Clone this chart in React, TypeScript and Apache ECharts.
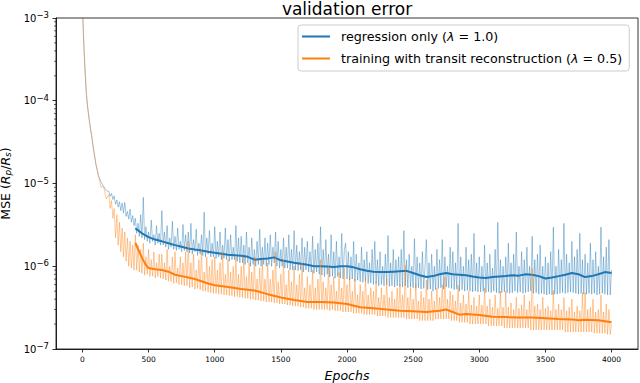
import React, { useEffect, useRef } from "react";
import * as echarts from "echarts";

// ---------- data (MSE values in units of 1e-6) ----------
const X_TICKS = [0, 500, 1000, 1500, 2000, 2500, 3000, 3500, 4000];
const Y_DECADES = [-7, -6, -5, -4, -3];
const MINOR_MULTIPLIERS = [2, 3, 4, 5, 6, 7, 8, 9];

const EARLY_EPOCHS = [0, 5, 10, 15, 20, 30, 40, 50, 60, 70, 80, 100, 120, 140, 160, 180];
const BLUE_EARLY = [1300, 800, 480, 320, 220, 115, 80, 60, 46, 37, 28, 17.5, 12.5, 10.5, 9.2, 8.2];
const ORANGE_EARLY = [1300, 850, 520, 340, 240, 125, 85, 63, 48, 38, 29, 18, 12.8, 9.0, 9.2, 6.5];

// raw values sampled every 10 epochs from epoch 200 to 4000
const RAW_START = 200;
const RAW_STEP = 10;
const BLUE_RAW = [
  8.0, 7.0, 7.6, 6.4, 7.1, 5.6, 6.3, 5.2, 6.0, 4.7, 5.8, 4.4, 5.9, 4.0, 4.6, 3.7, 4.9, 3.4, 4.1, 3.1,
  3.8, 2.5, 3.3, 2.3, 4.2, 2.2, 6.8, 2.1, 3.0, 2.0, 2.6, 1.9, 3.6, 2.0, 2.4, 1.8, 3.1, 1.9, 2.5, 1.8,
  4.7, 1.8, 2.6, 1.7, 3.1, 1.6, 2.2, 1.7, 3.5, 1.6, 2.3, 1.55, 2.9, 1.6, 2.0, 1.5, 3.2, 1.55, 2.4, 1.5,
  2.6, 1.45, 3.3, 1.4, 2.1, 1.5, 2.8, 1.35, 1.9, 1.4, 2.4, 1.35, 4.5, 1.3, 2.2, 1.4, 2.7, 1.3, 1.9, 1.3,
  3.0, 1.25, 2.0, 1.3, 2.6, 1.2, 1.8, 1.25, 2.9, 1.2, 2.1, 1.15, 2.4, 1.2, 1.7, 1.2, 3.1, 1.15, 2.2, 1.1,
  2.3, 1.1, 1.8, 1.05, 2.6, 1.1, 1.7, 1.0, 2.2, 1.05, 1.6, 1.0, 2.0, 1.05, 2.8, 1.0, 1.7, 1.05, 2.2, 1.0,
  1.9, 1.05, 2.4, 1.0, 1.7, 1.1, 2.6, 1.0, 2.0, 0.95, 1.6, 1.0, 2.2, 0.95, 1.7, 0.95, 2.4, 0.9, 1.6, 0.9,
  2.7, 0.9, 1.8, 0.88, 1.5, 0.9, 2.2, 0.85, 1.7, 0.9, 2.0, 0.85, 1.5, 0.85, 2.3, 0.82, 1.6, 0.85, 1.9, 0.8,
  3.0, 0.78, 1.6, 0.75, 2.1, 0.8, 1.4, 0.74, 2.4, 0.76, 1.5, 0.72, 2.0, 0.75, 1.3, 0.72, 2.5, 0.7, 1.6, 1.9,
  0.7, 1.5, 0.68, 1.3, 0.7, 2.0, 0.66, 1.4, 0.68, 1.1, 0.65, 1.7, 0.64, 1.2, 0.66, 1.5, 0.62, 1.1, 0.63, 1.6,
  0.6, 2.0, 0.62, 1.2, 0.58, 1.5, 0.6, 1.0, 0.58, 1.4, 0.6, 2.35, 0.57, 1.1, 0.58, 1.6, 0.56, 1.2, 0.58, 1.3,
  0.57, 1.6, 0.56, 2.7, 0.58, 1.2, 0.55, 1.4, 0.56, 1.0, 0.55, 2.15, 0.54, 1.3, 0.55, 1.1, 0.53, 1.5, 0.54, 1.0,
  2.1, 0.52, 1.1, 0.53, 1.4, 0.5, 1.0, 0.52, 1.6, 0.54, 1.2, 0.55, 2.1, 0.53, 1.3, 0.56, 1.0, 0.55, 1.7, 0.54,
  1.5, 0.52, 1.1, 0.53, 3.3, 0.5, 1.3, 0.52, 1.0, 0.5, 1.7, 0.51, 1.2, 0.5, 1.4, 0.49, 2.5, 0.5, 1.1, 0.49,
  1.3, 0.49, 1.0, 0.5, 1.8, 0.48, 1.1, 0.49, 1.4, 0.48, 0.95, 0.5, 1.6, 0.48, 3.4, 0.47, 1.2, 0.48, 1.0, 0.49,
  1.3, 0.48, 1.9, 0.47, 1.1, 0.48, 1.4, 0.5, 2.6, 0.48, 1.0, 0.49, 1.5, 0.47, 1.2, 0.48, 1.7, 0.49, 1.0, 0.5,
  2.3, 0.47, 1.2, 0.48, 1.4, 0.46, 1.8, 0.47, 1.0, 0.46, 1.3, 0.45, 1.1, 0.46, 1.5, 0.45, 2.97, 0.46, 1.0, 0.46,
  1.6, 0.47, 1.2, 0.48, 3.3, 0.47, 1.4, 0.48, 1.1, 0.49, 2.0, 0.48, 1.3, 0.47, 1.6, 0.46, 2.5, 0.47, 1.2, 0.46,
  1.4, 0.46, 1.1, 0.47, 1.9, 0.46, 1.2, 0.47, 1.5, 0.45, 1.0, 0.46, 2.97, 0.47, 1.3, 0.46, 1.7, 0.45, 2.1, 0.45,
  0.9,
];
const ORANGE_RAW = [
  7.4, 5.0, 6.2, 3.8, 5.0, 2.2, 4.2, 1.8, 3.4, 1.5, 2.9, 1.3, 2.6, 1.15, 2.2, 1.0, 2.0, 0.95, 1.8, 0.9,
  2.4, 0.9, 1.8, 0.85, 1.6, 0.82, 1.9, 0.78, 1.3, 0.8, 1.6, 0.75, 1.2, 0.76, 1.5, 0.72, 1.1, 0.75, 1.4, 0.72,
  1.4, 0.7, 1.1, 0.68, 1.6, 0.66, 1.0, 0.65, 1.3, 0.62, 1.5, 0.63, 0.95, 0.6, 1.3, 0.6, 1.1, 0.58, 1.5, 0.58,
  2.0, 0.55, 1.1, 0.56, 1.4, 0.53, 0.9, 0.54, 1.2, 0.52, 1.6, 0.5, 0.85, 0.5, 1.3, 0.49, 1.0, 0.48, 1.2, 0.47,
  1.3, 0.47, 0.9, 0.46, 1.1, 0.46, 1.5, 0.45, 0.8, 0.45, 1.2, 0.44, 0.85, 0.44, 1.0, 0.43, 1.3, 0.43, 0.8, 0.42,
  1.0, 0.42, 1.3, 0.41, 0.75, 0.41, 1.1, 0.4, 0.85, 0.4, 1.3, 0.39, 0.7, 0.39, 0.95, 0.38, 1.2, 0.38, 0.7, 0.37,
  1.1, 0.37, 0.7, 0.37, 0.9, 0.36, 1.5, 0.36, 0.65, 0.35, 0.8, 0.35, 1.2, 0.35, 0.6, 0.34, 0.9, 0.34, 0.65, 0.33,
  1.0, 0.33, 0.6, 0.33, 0.8, 0.32, 1.1, 0.32, 0.55, 0.31, 0.75, 0.31, 0.6, 0.31, 0.9, 0.3, 0.55, 0.3, 0.7, 0.3,
  1.2, 0.3, 0.65, 0.3, 0.55, 0.3, 1.0, 0.29, 0.6, 0.3, 0.75, 0.29, 0.5, 0.29, 0.85, 0.29, 0.55, 0.28, 0.95, 0.28,
  0.6, 0.28, 0.75, 0.28, 0.5, 0.27, 0.7, 0.27, 0.45, 0.27, 0.6, 0.27, 0.5, 0.26, 0.74, 0.26, 0.45, 0.26, 0.55, 0.26,
  0.5, 0.26, 0.65, 0.25, 0.42, 0.25, 0.55, 0.25, 0.45, 0.25, 0.7, 0.24, 0.42, 0.24, 0.5, 0.24, 0.4, 0.24, 0.55, 0.24,
  0.6, 0.24, 0.45, 0.24, 1.03, 0.23, 0.42, 0.23, 0.55, 0.23, 0.4, 0.23, 0.62, 0.23, 0.38, 0.22, 0.5, 0.22, 0.42, 0.22,
  0.68, 0.22, 0.4, 0.22, 0.5, 0.22, 0.38, 0.23, 0.55, 0.23, 0.42, 0.23, 0.6, 0.23, 0.74, 0.23, 0.4, 0.23, 0.5, 0.22,
  0.45, 0.22, 0.38, 0.22, 0.59, 0.21, 0.36, 0.21, 0.45, 0.21, 0.35, 0.21, 0.5, 0.2, 0.34, 0.2, 0.42, 0.2, 0.33, 0.2,
  0.45, 0.2, 0.34, 0.2, 0.55, 0.2, 0.33, 0.19, 0.4, 0.19, 0.32, 0.19, 0.45, 0.19, 0.31, 0.19, 0.5, 0.19, 0.32, 0.18,
  0.5, 0.18, 0.32, 0.18, 0.36, 0.18, 0.3, 0.18, 0.42, 0.18, 0.31, 0.18, 0.34, 0.18, 0.45, 0.18, 0.3, 0.18, 0.38, 0.17,
  0.95, 0.17, 0.33, 0.17, 0.35, 0.17, 0.3, 0.17, 0.42, 0.17, 0.31, 0.17, 0.33, 0.17, 0.29, 0.17, 0.51, 0.17, 0.3, 0.17,
  0.35, 0.17, 0.3, 0.17, 0.42, 0.16, 0.29, 0.16, 0.32, 0.16, 0.4, 0.16, 0.28, 0.16, 0.33, 0.16, 0.29, 0.16, 0.48, 0.16,
  0.48, 0.16, 0.3, 0.16, 0.32, 0.16, 0.4, 0.155, 0.28, 0.155, 0.3, 0.155, 0.45, 0.155, 0.28, 0.155, 0.35, 0.15, 0.3, 0.15,
  0.2,
];

const BLUE_SMOOTH_EPOCHS = [
  400, 450, 500, 550, 600, 650, 700, 750, 800, 850, 900, 950, 1000, 1050, 1100, 1150, 1200, 1250, 1300,
  1350, 1400, 1450, 1500, 1550, 1600, 1650, 1700, 1750, 1800, 1850, 1900, 1950, 2000, 2050, 2100, 2150,
  2200, 2250, 2300, 2350, 2400, 2450, 2500, 2550, 2600, 2650, 2700, 2750, 2800, 2850, 2900, 2950, 3000,
  3050, 3100, 3150, 3200, 3250, 3300, 3350, 3400, 3450, 3500, 3550, 3600, 3650, 3700, 3750, 3800, 3850,
  3900, 3950, 4000,
];
const BLUE_SMOOTH = [
  2.87, 2.5, 2.25, 2.1, 2.0, 1.9, 1.8, 1.72, 1.64, 1.59, 1.55, 1.5, 1.46, 1.42, 1.38, 1.36, 1.34, 1.3, 1.2,
  1.22, 1.24, 1.28, 1.18, 1.14, 1.1, 1.07, 1.04, 1.0, 1.0, 0.99, 0.98, 1.0, 1.0, 0.97, 0.92, 0.88,
  0.86, 0.85, 0.85, 0.86, 0.87, 0.88, 0.83, 0.78, 0.74, 0.76, 0.8, 0.83, 0.8, 0.79, 0.78, 0.75, 0.73,
  0.72, 0.74, 0.75, 0.76, 0.78, 0.77, 0.8, 0.79, 0.76, 0.71, 0.73, 0.76, 0.79, 0.83, 0.8, 0.74, 0.76,
  0.8, 0.85, 0.83,
];

const ORANGE_SMOOTH_EPOCHS = [
  400, 425, 450, 475, 500, 550, 600, 650, 700, 750, 800, 850, 900, 950, 1000, 1100, 1200, 1300, 1400,
  1500, 1600, 1700, 1800, 1900, 2000, 2100, 2200, 2300, 2400, 2500, 2600, 2700, 2750, 2800, 2850, 2900,
  3000, 3100, 3200, 3300, 3400, 3500, 3600, 3700, 3750, 3800, 3900, 4000,
];
const ORANGE_SMOOTH = [
  1.91, 1.55, 1.27, 1.06, 0.95, 0.92, 0.9, 0.86, 0.79, 0.76, 0.73, 0.7, 0.66, 0.62, 0.59, 0.56, 0.53, 0.51, 0.46,
  0.42, 0.39, 0.37, 0.37, 0.365, 0.35, 0.32, 0.31, 0.3, 0.29, 0.285, 0.28, 0.29, 0.3, 0.28, 0.26, 0.265,
  0.257, 0.245, 0.243, 0.24, 0.24, 0.235, 0.23, 0.228, 0.222, 0.225, 0.222, 0.21,
];

const NAME_BLUE = "regression only (λ = 1.0)";
const NAME_ORANGE = "training with transit reconstruction (λ = 0.5)";

const BLUE = "#1f77b4";
const ORANGE = "#ff7f0e";
const FONT = "DejaVu Sans";

function rawPairs(early: number[], raw: number[]) {
  const out: [number, number][] = [];
  EARLY_EPOCHS.forEach((e, i) => out.push([e, early[i] * 1e-6]));
  raw.forEach((v, i) => out.push([RAW_START + i * RAW_STEP, v * 1e-6]));
  return out;
}
function pairs(xs: number[], ys: number[]) {
  return xs.map((x, i) => [x, ys[i] * 1e-6]);
}

const titleGraphic = {
  type: "text",
  id: "title",
  x: 347,
  y: 9,
  style: {
    text: "validation error",
    fontFamily: FONT,
    fontSize: 17,
    fill: "#000",
    align: "center",
    verticalAlign: "middle",
  },
};

export default function App() {
  const ref = useRef<HTMLDivElement>(null);
  useEffect(() => {
    const chart = echarts.init(ref.current!, null, { renderer: "svg" });
    const option: any = {
      animation: false,
      backgroundColor: "#fff",
      grid: {
        left: 56,
        top: 18,
        width: 582,
        height: 331,
        containLabel: false,
        outerBoundsMode: "none",
        show: true,
        borderColor: "#000",
        borderWidth: 0.8,
        backgroundColor: "transparent",
      },
      graphic: [titleGraphic],
      legend: {
        data: [NAME_BLUE, NAME_ORANGE],
        orient: "vertical",
        left: 298,
        top: 25,
        icon: "rect",
        itemWidth: 28,
        itemHeight: 2,
        itemGap: 9,
        padding: [5, 7, 6, 4],
        backgroundColor: "rgba(255,255,255,0.8)",
        borderColor: "#cccccc",
        borderWidth: 1,
        borderRadius: 3,
        selectedMode: false,
        formatter: (name: string) => name.replace("λ", "{i|λ}"),
        textStyle: {
          fontFamily: FONT,
          fontSize: 12.7,
          color: "#000",
          padding: [0, 0, 0, 6],
          rich: {
            i: { fontFamily: FONT, fontStyle: "italic", fontSize: 12.7, color: "#000" },
          },
        },
      },
      xAxis: {
        type: "value",
        min: -200,
        max: 4200,
        splitLine: { show: false },
        axisLine: { show: true, onZero: false, lineStyle: { color: "#000", width: 0.8 } },
        axisTick: { show: true, length: 3.5, customValues: X_TICKS, lineStyle: { color: "#000", width: 0.8 } },
        axisLabel: {
          customValues: X_TICKS,
          formatter: (v: number) => String(v),
          fontFamily: FONT,
          fontSize: 7.5,
          color: "#000",
          margin: 6,
        },
        name: "Epochs",
        nameLocation: "middle",
        nameGap: 20,
        nameTextStyle: { fontFamily: FONT, fontSize: 12.5, fontStyle: "italic", color: "#000" },
      },
      yAxis: {
        type: "log",
        logBase: 10,
        min: 1e-7,
        max: 1e-3,
        splitNumber: 4,
        splitLine: { show: false },
        axisLine: { show: true, onZero: false, lineStyle: { color: "#000", width: 0.8 } },
        axisTick: { show: true, length: 3.5, lineStyle: { color: "#000", width: 0.8 } },
        minorTick: { show: false },
        minorSplitLine: { show: false },
        axisLabel: {
          fontFamily: FONT,
          fontSize: 10,
          color: "#000",
          margin: 7,
          formatter: (v: number) => `10{sup|−${Math.round(-Math.log10(v))}}`,
          rich: {
            sup: { fontFamily: FONT, fontSize: 8.5, color: "#000", padding: [0, 0, 6, 0] },
          },
        },
        name: "MSE ({it|R}{sub|p}/{it|R}{sub|s})",
        nameLocation: "middle",
        nameGap: 34,
        nameTextStyle: {
          fontFamily: FONT,
          fontSize: 12.5,
          color: "#000",
          rich: {
            it: { fontFamily: FONT, fontSize: 12.5, fontStyle: "italic", color: "#000" },
            sub: { fontFamily: FONT, fontSize: 9, fontStyle: "italic", color: "#000", padding: [5, 0, 0, 0] },
          },
        },
      },
      series: [
        {
          name: "blue-raw",
          type: "line",
          data: rawPairs(BLUE_EARLY, BLUE_RAW),
          symbol: "none",
          silent: true,
          z: 1,
          itemStyle: { color: BLUE },
          lineStyle: { color: BLUE, width: 1, opacity: 0.42 },
        },
        {
          name: NAME_BLUE,
          type: "line",
          data: pairs(BLUE_SMOOTH_EPOCHS, BLUE_SMOOTH),
          symbol: "none",
          silent: true,
          z: 2,
          itemStyle: { color: BLUE },
          lineStyle: { color: BLUE, width: 2 },
        },
        {
          name: "orange-raw",
          type: "line",
          data: rawPairs(ORANGE_EARLY, ORANGE_RAW),
          symbol: "none",
          silent: true,
          z: 3,
          itemStyle: { color: ORANGE },
          lineStyle: { color: ORANGE, width: 1, opacity: 0.42 },
        },
        {
          name: NAME_ORANGE,
          type: "line",
          data: pairs(ORANGE_SMOOTH_EPOCHS, ORANGE_SMOOTH),
          symbol: "none",
          silent: true,
          z: 4,
          itemStyle: { color: ORANGE },
          lineStyle: { color: ORANGE, width: 2 },
        },
      ],
    };
    chart.setOption(option);

    // matplotlib-style log minor ticks, placed through the axis scale
    const x0 = chart.convertToPixel({ xAxisIndex: 0 }, -200) as number;
    const minor: any[] = [];
    Y_DECADES.slice(0, -1).forEach((d) => {
      MINOR_MULTIPLIERS.forEach((m) => {
        const py = chart.convertToPixel({ yAxisIndex: 0 }, m * Math.pow(10, d)) as number;
        minor.push({
          type: "line",
          silent: true,
          shape: { x1: x0 - 2, y1: py, x2: x0, y2: py },
          style: { stroke: "#000", lineWidth: 0.6 },
        });
      });
    });
    chart.setOption({ graphic: [titleGraphic, ...minor] });
    return () => chart.dispose();
  }, []);
  return (
    <div
      ref={ref}
      style={{ position: "absolute", left: 0, top: 0, width: 640, height: 383 }}
    />
  );
}
